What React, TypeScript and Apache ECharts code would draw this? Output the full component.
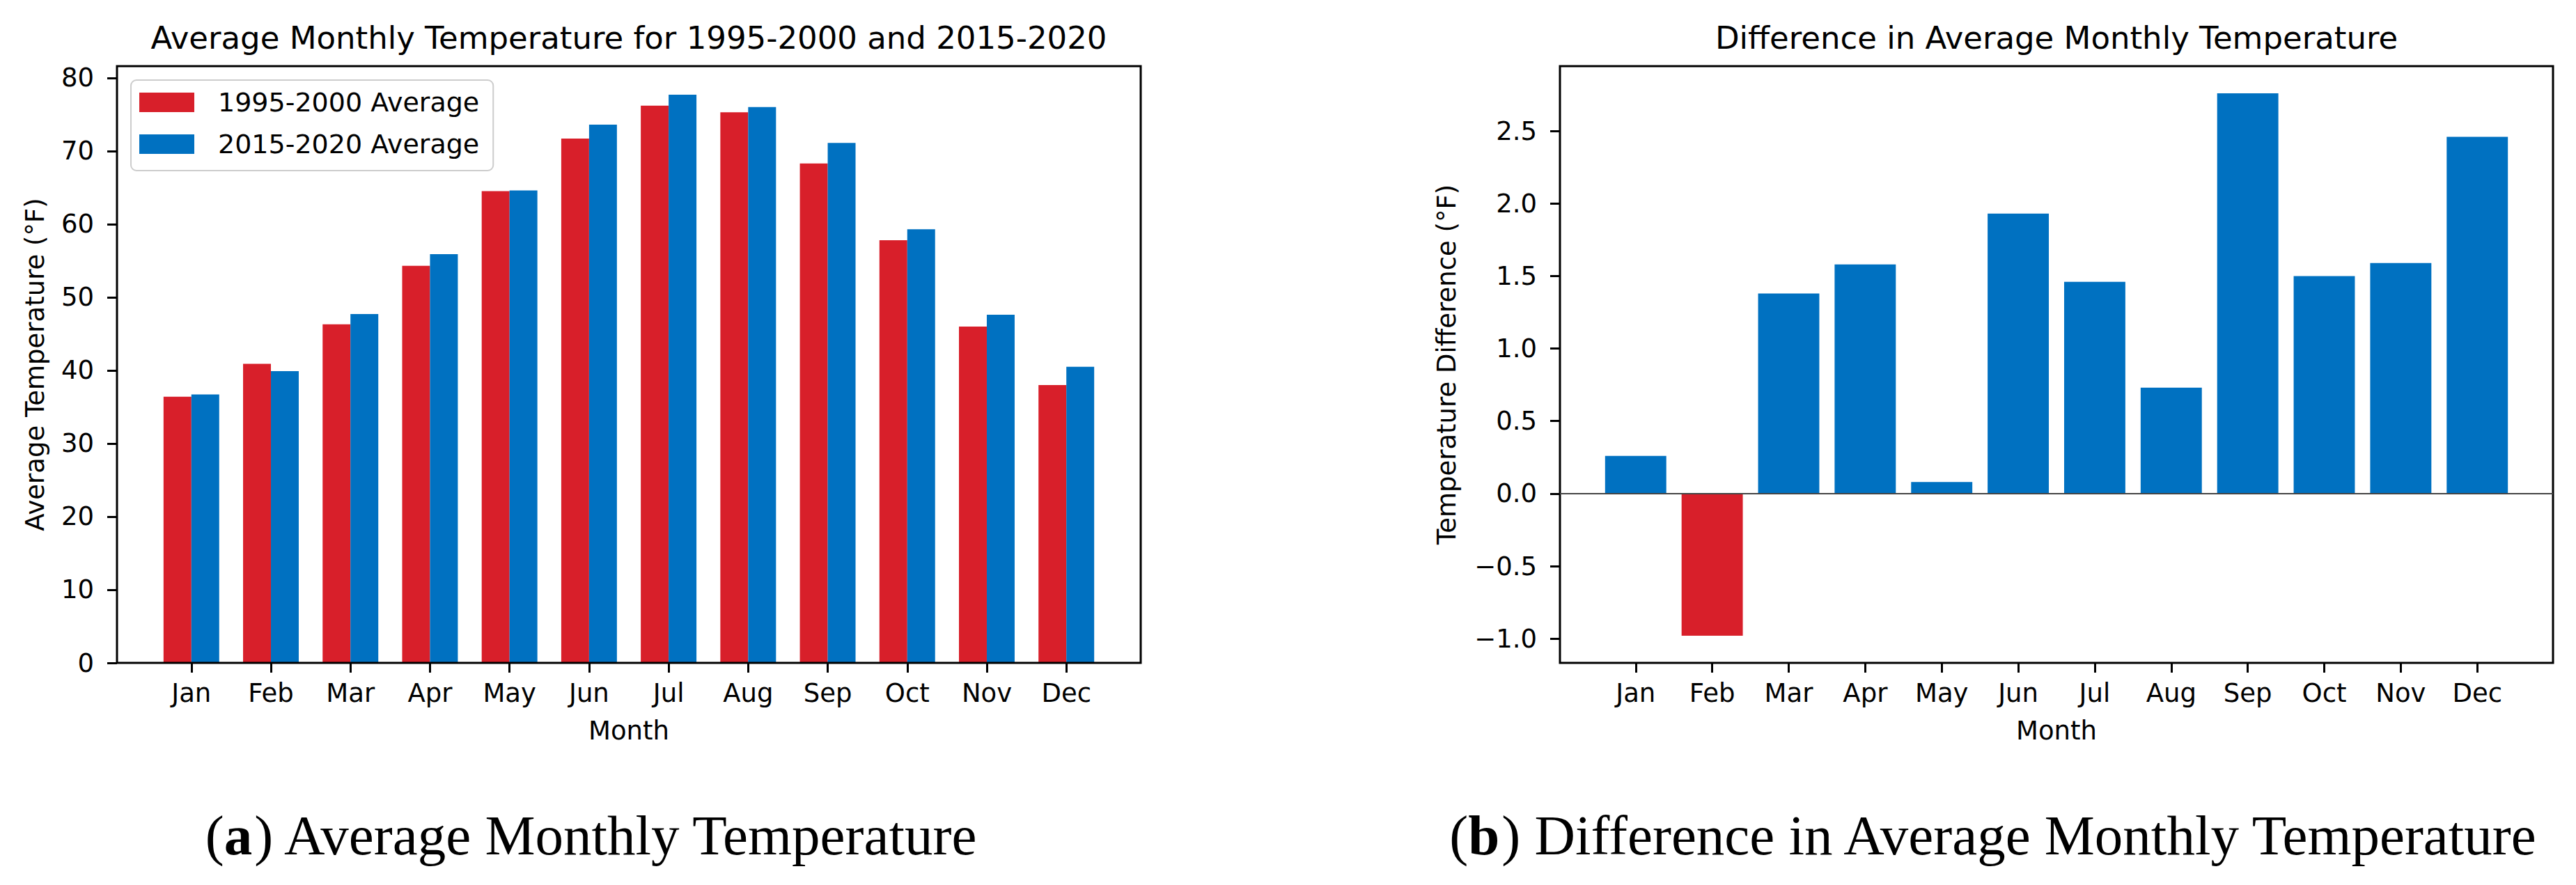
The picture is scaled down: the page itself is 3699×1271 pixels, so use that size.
import React, { useEffect, useRef } from "react";
import * as echarts from "echarts";

const months = ["Jan", "Feb", "Mar", "Apr", "May", "Jun", "Jul", "Aug", "Sep", "Oct", "Nov", "Dec"];
const avg1995_2000 = [36.4, 40.9, 46.3, 54.3, 64.5, 71.7, 76.2, 75.3, 68.3, 57.8, 46.0, 38.0];
const avg2015_2020 = [36.7, 39.9, 47.7, 55.9, 64.6, 73.6, 77.7, 76.0, 71.1, 59.3, 47.6, 40.5];
const tempDiff = [0.26, -0.98, 1.38, 1.58, 0.08, 1.93, 1.46, 0.73, 2.76, 1.5, 1.59, 2.46];
const leftTicks = [0, 10, 20, 30, 40, 50, 60, 70, 80];
const rightTicks = [-1, -0.5, 0, 0.5, 1, 1.5, 2, 2.5];

const RED = "#D81F2A";
const BLUE = "#0071C1";
const FONT = "DejaVu Sans";
const FS = 37;

// layout (pixels)
const TOP = 95;
const BOTTOM = 952;
const H = BOTTOM - TOP;
const L_X0 = 168, L_X1 = 1638; // left axes frame
const R_X0 = 2240, R_X1 = 3666; // right axes frame
const L_SPAN = 12.87; // x-range in category units (matplotlib margins)
const R_SPAN = 12.98;

export default function App() {
  const ref = useRef<HTMLDivElement>(null);
  useEffect(() => {
    if (!ref.current) return;
    const chart = echarts.init(ref.current, undefined, { renderer: "svg" });

    const lu = (L_X1 - L_X0) / L_SPAN;
    const lOff = ((L_SPAN - 12) / 2) * lu;
    const ru = (R_X1 - R_X0) / R_SPAN;
    const rOff = ((R_SPAN - 12) / 2) * ru;

    const tick = { show: true, inside: false, length: 14, lineStyle: { color: "#000", width: 3 } };
    const lbl = { color: "#000", fontFamily: FONT, fontSize: FS };

    const option: any = {
      animation: false,
      backgroundColor: "#fff",
      textStyle: { fontFamily: FONT },
      grid: [
        { left: L_X0 + lOff, top: TOP, width: 12 * lu, height: H, outerBoundsMode: "none", containLabel: false },
        { left: L_X0, top: TOP, width: L_X1 - L_X0, height: H, show: true, borderColor: "#000", borderWidth: 3, backgroundColor: "transparent", z: 5, outerBoundsMode: "none", containLabel: false },
        { left: R_X0 + rOff, top: TOP, width: 12 * ru, height: H, outerBoundsMode: "none", containLabel: false },
        { left: R_X0, top: TOP, width: R_X1 - R_X0, height: H, show: true, borderColor: "#000", borderWidth: 3, backgroundColor: "transparent", z: 5, outerBoundsMode: "none", containLabel: false },
      ],
      xAxis: [
        {
          type: "category", gridIndex: 0, data: months, boundaryGap: true,
          axisLine: { show: false, onZero: false },
          axisTick: { ...tick, alignWithLabel: true },
          axisLabel: { ...lbl, margin: 25, interval: 0 },
          splitLine: { show: false },
        },
        { type: "value", gridIndex: 1, min: 0, max: 1, show: false },
        {
          type: "category", gridIndex: 2, data: months, boundaryGap: true,
          axisLine: { show: false, onZero: false },
          axisTick: { ...tick, alignWithLabel: true },
          axisLabel: { ...lbl, margin: 25, interval: 0 },
          splitLine: { show: false },
        },
        { type: "value", gridIndex: 3, min: -(R_SPAN - 11) / 2, max: 11 + (R_SPAN - 11) / 2, show: false },
      ],
      yAxis: [
        {
          type: "value", gridIndex: 0, min: 0, max: 81.6, offset: lOff,
          axisLine: { show: false, onZero: false },
          axisTick: { ...tick, customValues: leftTicks },
          axisLabel: { ...lbl, margin: 33, customValues: leftTicks },
          splitLine: { show: false },
        },
        { type: "value", gridIndex: 1, min: 0, max: 1, show: false },
        {
          type: "value", gridIndex: 2, min: -1.167, max: 2.947, offset: rOff,
          axisLine: { show: false, onZero: false },
          axisTick: { ...tick, customValues: rightTicks },
          axisLabel: {
            ...lbl, margin: 33, customValues: rightTicks,
            formatter: (v: number) => (v < 0 ? "\u2212" : "") + Math.abs(v).toFixed(1),
          },
          splitLine: { show: false },
        },
        { type: "value", gridIndex: 3, min: -1.167, max: 2.947, show: false },
      ],
      legend: {
        orient: "vertical",
        left: 188,
        top: 115,
        padding: [13, 20, 19, 12],
        itemWidth: 79,
        itemHeight: 28,
        itemGap: 22,
        icon: "rect",
        backgroundColor: "rgba(255,255,255,0.8)",
        borderColor: "#cccccc",
        borderWidth: 2,
        borderRadius: 8,
        textStyle: { color: "#000", fontFamily: FONT, fontSize: 38, lineHeight: 37, padding: [0, 0, 0, 29] },
        data: ["1995-2000 Average", "2015-2020 Average"],
      },
      series: [
        {
          name: "1995-2000 Average", type: "bar", xAxisIndex: 0, yAxisIndex: 0,
          data: avg1995_2000, barWidth: "35%", barGap: "0%",
          itemStyle: { color: RED },
        },
        {
          name: "2015-2020 Average", type: "bar", xAxisIndex: 0, yAxisIndex: 0,
          data: avg2015_2020, barWidth: "35%", barGap: "0%",
          itemStyle: { color: BLUE },
        },
        {
          name: "Difference", type: "bar", xAxisIndex: 2, yAxisIndex: 2,
          data: tempDiff.map((v) => ({ value: v, itemStyle: { color: v < 0 ? RED : BLUE } })),
          barWidth: "80%",
        },
        {
          name: "zero", type: "line", xAxisIndex: 3, yAxisIndex: 3, data: [], z: 4,
          markLine: {
            silent: true, symbol: ["none", "none"], label: { show: false },
            lineStyle: { color: "#444", width: 2, type: "solid" },
            data: [{ yAxis: 0 }],
          },
        },
      ],
      graphic: [
        {
          type: "text", x: (L_X0 + L_X1) / 2, y: 54,
          style: { text: "Average Monthly Temperature for 1995-2000 and 2015-2020", fontFamily: FONT, fontSize: 45, fill: "#000", align: "center", verticalAlign: "middle" },
        },
        {
          type: "text", x: (R_X0 + R_X1) / 2, y: 54,
          style: { text: "Difference in Average Monthly Temperature", fontFamily: FONT, fontSize: 45, fill: "#000", align: "center", verticalAlign: "middle" },
        },
        {
          type: "text", x: (L_X0 + L_X1) / 2, y: 1049,
          style: { text: "Month", fontFamily: FONT, fontSize: FS, fill: "#000", align: "center", verticalAlign: "middle" },
        },
        {
          type: "text", x: (R_X0 + R_X1) / 2, y: 1049,
          style: { text: "Month", fontFamily: FONT, fontSize: FS, fill: "#000", align: "center", verticalAlign: "middle" },
        },
        {
          type: "text", x: 50, y: (TOP + BOTTOM) / 2, rotation: Math.PI / 2,
          style: { text: "Average Temperature (°F)", fontFamily: FONT, fontSize: FS, fill: "#000", align: "center", verticalAlign: "middle" },
        },
        {
          type: "text", x: 2077, y: (TOP + BOTTOM) / 2, rotation: Math.PI / 2,
          style: { text: "Temperature Difference (°F)", fontFamily: FONT, fontSize: FS, fill: "#000", align: "center", verticalAlign: "middle" },
        },
        {
          type: "text", x: 850, y: 1200,
          style: {
            text: "({b|a}) Average Monthly Temperature",
            fontFamily: "Liberation Serif", fontSize: 81, fill: "#000", align: "center", verticalAlign: "middle",
            rich: { b: { fontFamily: "Liberation Serif", fontSize: 81, fontWeight: "bold", fill: "#000" } },
          },
        },
        {
          type: "text", x: 2863, y: 1200,
          style: {
            text: "({b|b}) Difference in Average Monthly Temperature",
            fontFamily: "Liberation Serif", fontSize: 81, fill: "#000", align: "center", verticalAlign: "middle",
            rich: { b: { fontFamily: "Liberation Serif", fontSize: 81, fontWeight: "bold", fill: "#000" } },
          },
        },
      ],
    };
    chart.setOption(option);
    return () => chart.dispose();
  }, []);
  return <div ref={ref} style={{ position: "fixed", left: 0, top: 0, width: 3699, height: 1271 }} />;
}
